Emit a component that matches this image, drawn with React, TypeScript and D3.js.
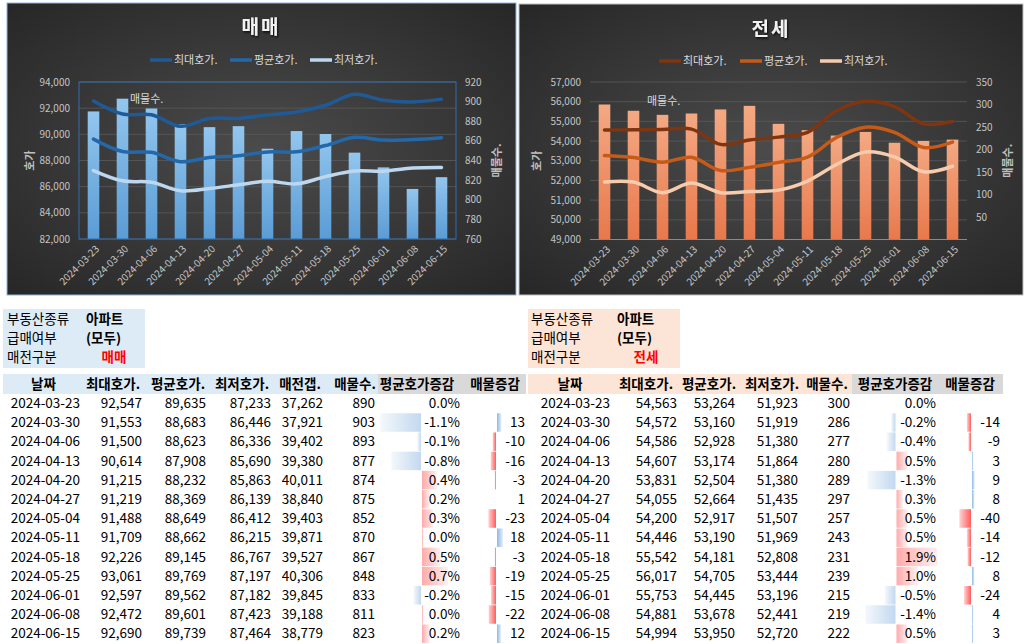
import React from "react";
import * as d3 from "d3";

const dates = ["2024-03-23","2024-03-30","2024-04-06","2024-04-13","2024-04-20","2024-04-27","2024-05-04","2024-05-11","2024-05-18","2024-05-25","2024-06-01","2024-06-08","2024-06-15"];

const saleMax = [92547, 91553, 91500, 90614, 91215, 91219, 91488, 91709, 92226, 93061, 92597, 92472, 92690];
const saleAvg = [89635, 88683, 88623, 87908, 88232, 88369, 88649, 88662, 89145, 89769, 89562, 89601, 89739];
const saleMin = [87233, 86446, 86336, 85690, 85863, 86139, 86412, 86215, 86767, 87197, 87182, 87423, 87464];
const saleGap = [37262, 37921, 39402, 39380, 40011, 38840, 39403, 39871, 39527, 40306, 39845, 39188, 38779];
const saleCount = [890, 903, 893, 877, 874, 875, 852, 870, 867, 848, 833, 811, 823];
const salePct = [0.0, -1.1, -0.1, -0.8, 0.4, 0.2, 0.3, 0.0, 0.5, 0.7, -0.2, 0.0, 0.2];
const saleCountChg: (number | null)[] = [null, 13, -10, -16, -3, 1, -23, 18, -3, -19, -15, -22, 12];

const rentMax = [54563, 54572, 54586, 54607, 53831, 54055, 54200, 54446, 55542, 56017, 55753, 54881, 54994];
const rentAvg = [53264, 53160, 52928, 53174, 52504, 52664, 52917, 53190, 54181, 54705, 54445, 53678, 53950];
const rentMin = [51923, 51919, 51380, 51864, 51380, 51435, 51507, 51969, 52808, 53444, 53196, 52441, 52720];
const rentCount = [300, 286, 277, 280, 289, 297, 257, 243, 231, 239, 215, 219, 222];
const rentPct = [0.0, -0.2, -0.4, 0.5, -1.3, 0.3, 0.5, 0.5, 1.9, 1.0, -0.5, -1.4, 0.5];
const rentCountChg: (number | null)[] = [null, -14, -9, 3, 9, 8, -40, -14, -12, 8, -24, 4, 3];

const saleLeftTicks = [82000, 84000, 86000, 88000, 90000, 92000, 94000];
const saleRightTicks = [760, 780, 800, 820, 840, 860, 880, 900, 920];
const rentLeftTicks = [49000, 50000, 51000, 52000, 53000, 54000, 55000, 56000, 57000];
const rentRightTicks = [50, 100, 150, 200, 250, 300, 350];

const seriesNames = ["최대호가.", "평균호가.", "최저호가."];

const FONT = "'Noto Sans CJK KR', 'Noto Sans', sans-serif";

const fmtNum = (v: number) => d3.format(",")(v).replace("\u2212", "-");

function Chart(p: any) {
  const x = d3.scaleBand().domain(dates).range([p.l, p.r]).padding(0);
  const yL = d3.scaleLinear().domain(p.leftDomain).range([p.b, p.t]);
  const yR = d3.scaleLinear().domain(p.rightDomain).range([p.b, p.t]);
  const cx = (i: number) => (x(dates[i]) as number) + x.bandwidth() / 2;
  const lineGen = d3
    .line<number>()
    .x((_, i) => cx(i))
    .y((d) => yL(d))
    .curve(d3.curveCatmullRom.alpha(0.5));
  const bw = x.bandwidth() * 0.4;
  const gid = p.id;
  return (
    <g>
      <defs>
        <radialGradient id={gid + "bg"} cx="50%" cy="50%" r="70%">
          <stop offset="0%" stopColor="#4b4b4b" />
          <stop offset="100%" stopColor="#272727" />
        </radialGradient>
        <linearGradient id={gid + "bar"} x1="0" y1="0" x2="0" y2="1">
          <stop offset="0%" stopColor={p.barTop} />
          <stop offset="100%" stopColor={p.barBottom} />
        </linearGradient>
        <filter id={gid + "sh"} x="-20%" y="-20%" width="140%" height="140%">
          <feDropShadow dx="1" dy="1.5" stdDeviation="1" floodColor="#000" floodOpacity="0.8" />
        </filter>
      </defs>
      <rect x={p.x0} y={p.y0} width={p.x1 - p.x0} height={p.y1 - p.y0} fill={`url(#${gid}bg)`} stroke={p.border} strokeWidth={1} />
      {p.leftTicks.map((t: number) => (
        <line key={"g" + t} x1={p.l} x2={p.r} y1={yL(t)} y2={yL(t)} stroke="#5a5a5a" strokeWidth={0.8} />
      ))}
      {p.counts.map((c: number, i: number) => (
        <rect key={"b" + i} x={cx(i) - bw / 2} y={yR(c)} width={bw} height={p.b - yR(c)} fill={`url(#${gid}bar)`} />
      ))}
      {p.plotBorder ? (
        <rect x={p.l} y={p.t} width={p.r - p.l} height={p.b - p.t} fill="none" stroke="#2e6db0" strokeWidth={1} />
      ) : (
        <line x1={p.l} x2={p.r} y1={p.b} y2={p.b} stroke="#8a8a8a" strokeWidth={1} />
      )}
      {[p.max, p.avg, p.min].map((vals: number[], k: number) => (
        <path key={"l" + k} d={lineGen(vals) as string} fill="none" stroke={p.colors[k]} strokeWidth={3.5} strokeLinecap="round" strokeLinejoin="round" />
      ))}
      {p.leftTicks.map((t: number) => (
        <text key={"lt" + t} x={p.lTickX} y={yL(t)} dy="0.35em" textAnchor="end" fontSize={10} fill="#c4c4c4" fontFamily={FONT}>
          {fmtNum(t)}
        </text>
      ))}
      {p.rightTicks.map((t: number) => (
        <text key={"rt" + t} x={p.rTickX} y={yR(t)} dy="0.35em" textAnchor="start" fontSize={10} fill="#c4c4c4" fontFamily={FONT}>
          {t}
        </text>
      ))}
      {dates.map((d, i) => (
        <text key={"xl" + i} transform={`translate(${cx(i) + 4},${p.b + 8}) rotate(-45)`} textAnchor="end" dy="0.35em" fontSize={10} fill="#c4c4c4" fontFamily={FONT}>
          {d}
        </text>
      ))}
      <text transform={`translate(${p.lTitleX},${(p.t + p.b) / 2}) rotate(-90)`} textAnchor="middle" dy="0.35em" fontSize={11} fontWeight="bold" fill="#bfbfbf" fontFamily={FONT}>
        호가
      </text>
      <text transform={`translate(${p.rTitleX},${(p.t + p.b) / 2}) rotate(-90)`} textAnchor="middle" dy="0.35em" fontSize={11} fontWeight="bold" fill="#bfbfbf" fontFamily={FONT}>
        매물수.
      </text>
      <text x={p.titleX} y={p.titleY} textAnchor="middle" dy="0.35em" fontSize={19} fontWeight="bold" letterSpacing={2} fill="#f2f2f2" fontFamily={FONT} filter={`url(#${gid}sh)`}>
        {p.title}
      </text>
      {seriesNames.map((n, k) => (
        <g key={"lg" + k}>
          <line x1={p.legX[k]} x2={p.legX[k] + 22} y1={p.legY} y2={p.legY} stroke={p.colors[k]} strokeWidth={3.5} />
          <text x={p.legX[k] + 24} y={p.legY} dy="0.35em" fontSize={11} fill="#d9d9d9" fontFamily={FONT}>
            {n}
          </text>
        </g>
      ))}
      <text x={p.barLabelX} y={p.barLabelY} dy="0.35em" fontSize={11} fill="#d9d9d9" fontFamily={FONT}>
        매물수.
      </text>
    </g>
  );
}

function DataBar(p: any) {
  const { v, axis, scale, y, h, pos, neg, id, minW } = p;
  if (v === null || v === undefined) return null;
  let w = Math.abs(v) * scale;
  if (w < minW) w = minW;
  const positive = v >= 0;
  const col = positive ? pos : neg;
  const x = positive ? axis + 1 : axis - w;
  return (
    <g>
      <defs>
        <linearGradient id={id} x1={positive ? "0" : "1"} y1="0" x2={positive ? "1" : "0"} y2="0">
          <stop offset="0%" stopColor={col[0]} />
          <stop offset="100%" stopColor={col[1]} />
        </linearGradient>
      </defs>
      <rect x={x} y={y - h / 2} width={w} height={h} fill={`url(#${id})`} />
    </g>
  );
}

function Table(p: any) {
  const rowY = (i: number) => 403.3 + i * 19.2;
  return (
    <g fontFamily={FONT}>
      <rect x={p.infoX0} y={309} width={p.infoX1 - p.infoX0} height={59} fill={p.infoBg} />
      {["부동산종류", "급매여부", "매전구분"].map((t, k) => (
        <text key={"il" + k} x={p.infoLabelX} y={319 + k * 19.2} dy="0.35em" fontSize={13.5} fill="#000">
          {t}
        </text>
      ))}
      <text x={p.infoValX} y={319} dy="0.35em" fontSize={13.5} fontWeight="bold" fill="#000">아파트</text>
      <text x={p.infoValX} y={338.2} dy="0.35em" fontSize={13.5} fontWeight="bold" fill="#000">(모두)</text>
      <text x={p.kindX} y={357.4} dy="0.35em" textAnchor="middle" fontSize={13.5} fontWeight="bold" fill="#ff0000">{p.kind}</text>
      <rect x={p.hdrX0} y={374} width={p.hdrMid - p.hdrX0} height={20} fill={p.infoBg} />
      <rect x={p.hdrMid} y={374} width={p.hdrX1 - p.hdrMid} height={20} fill="#d9d9d9" />
      {p.cols.map((c: any, k: number) => (
        <text key={"h" + k} x={c.hc} y={384} dy="0.35em" textAnchor="middle" fontSize={13.5} fontWeight="bold" fill="#000">
          {c.h}
        </text>
      ))}
      {dates.map((d, i) => (
        <g key={"r" + i}>
          <DataBar id={p.id + "pb" + i} v={i === 0 ? null : p.pct[i]} axis={p.pctAxis} scale={p.pctScale} y={rowY(i)} h={18.5} minW={1.5}
            pos={["#ffaaaa", "#fff0f0"]} neg={["#c3d8ef", "#f4f8fc"]} />
          <DataBar id={p.id + "cb" + i} v={p.cnt[i] === 1 ? null : p.cnt[i]} axis={p.cntAxis} scale={p.cntScale} y={rowY(i)} h={18.5} minW={1.2}
            pos={["#8fb8e4", "#e3eef9"]} neg={["#ff5c5c", "#ffd2d2"]} />
          {p.cols.map((c: any, k: number) => {
            const v = c.vals[i];
            if (v === null || v === undefined) return null;
            const txt = c.type === "date" ? v : c.type === "pct" ? v.toFixed(1) + "%" : fmtNum(v);
            return (
              <text key={"c" + k} x={c.r} y={rowY(i)} dy="0.35em" textAnchor="end" fontSize={13.5} fill="#000">
                {txt}
              </text>
            );
          })}
        </g>
      ))}
    </g>
  );
}

export default function App() {
  const saleCols = [
    { h: "날짜", hc: 43.5, r: 80, vals: dates, type: "date" },
    { h: "최대호가.", hc: 113, r: 142, vals: saleMax },
    { h: "평균호가.", hc: 178, r: 206, vals: saleAvg },
    { h: "최저호가.", hc: 242, r: 271, vals: saleMin },
    { h: "매전갭.", hc: 300, r: 323, vals: saleGap },
    { h: "매물수.", hc: 355, r: 375, vals: saleCount },
    { h: "평균호가증감", hc: 417, r: 460, vals: salePct, type: "pct" },
    { h: "매물증감", hc: 495, r: 525, vals: saleCountChg },
  ];
  const rentCols = [
    { h: "날짜", hc: 570, r: 610, vals: dates, type: "date" },
    { h: "최대호가.", hc: 646, r: 677, vals: rentMax },
    { h: "평균호가.", hc: 709, r: 735, vals: rentAvg },
    { h: "최저호가.", hc: 772, r: 798, vals: rentMin },
    { h: "매물수.", hc: 827, r: 850, vals: rentCount },
    { h: "평균호가증감", hc: 895, r: 936, vals: rentPct, type: "pct" },
    { h: "매물증감", hc: 970, r: 1000, vals: rentCountChg },
  ];
  return (
    <svg width={1024} height={644} style={{ position: "absolute", left: 0, top: 0, background: "#ffffff" }}>
      <rect x={0} y={0} width={1024} height={644} fill="#ffffff" />
      <Chart id="sale" x0={7} y0={3} x1={516} y1={295} l={79} r={456} t={82} b={239}
        leftDomain={[82000, 94000]} rightDomain={[760, 920]} leftTicks={saleLeftTicks} rightTicks={saleRightTicks}
        max={saleMax} avg={saleAvg} min={saleMin} counts={saleCount}
        colors={["#1f5a96", "#2468aa", "#bdd7ee"]} barTop="#92c6ee" barBottom="#5a9cd5"
        border="#8fb4de" plotBorder={true} title="매매" titleX={261} titleY={27}
        legY={60} legX={[150, 230, 310]} lTickX={70} rTickX={465} lTitleX={30} rTitleX={497}
        barLabelX={130} barLabelY={99} />
      <Chart id="rent" x0={519} y0={4} x1={1023} y1={295} l={590} r={967} t={82} b={239.5}
        leftDomain={[49000, 57000]} rightDomain={[0, 350]} leftTicks={rentLeftTicks} rightTicks={rentRightTicks}
        max={rentMax} avg={rentAvg} min={rentMin} counts={rentCount}
        colors={["#7e3510", "#c65a18", "#f8cbad"]} barTop="#f4a983" barBottom="#e8784c"
        border="#bfbfbf" plotBorder={false} title="전세" titleX={771} titleY={29}
        legY={61} legX={[659, 740, 820]} lTickX={581} rTickX={976} lTitleX={537} rTitleX={1008}
        barLabelX={647} barLabelY={101} />
      <Table id="ts" cols={saleCols} pct={salePct} cnt={saleCountChg} pctAxis={421} pctScale={37} cntAxis={496} cntScale={0.33}
        infoX0={3} infoX1={145} infoBg="#ddebf7" infoLabelX={7} infoValX={86} kindX={114} kind="매매"
        hdrX0={3} hdrMid={378} hdrX1={526} />
      <Table id="tr" cols={rentCols} pct={rentPct} cnt={rentCountChg} pctAxis={895.5} pctScale={21.5} cntAxis={971} cntScale={0.29}
        infoX0={528} infoX1={680} infoBg="#fce4d6" infoLabelX={531} infoValX={617} kindX={646} kind="전세"
        hdrX0={528} hdrMid={852} hdrX1={1003} />
    </svg>
  );
}
